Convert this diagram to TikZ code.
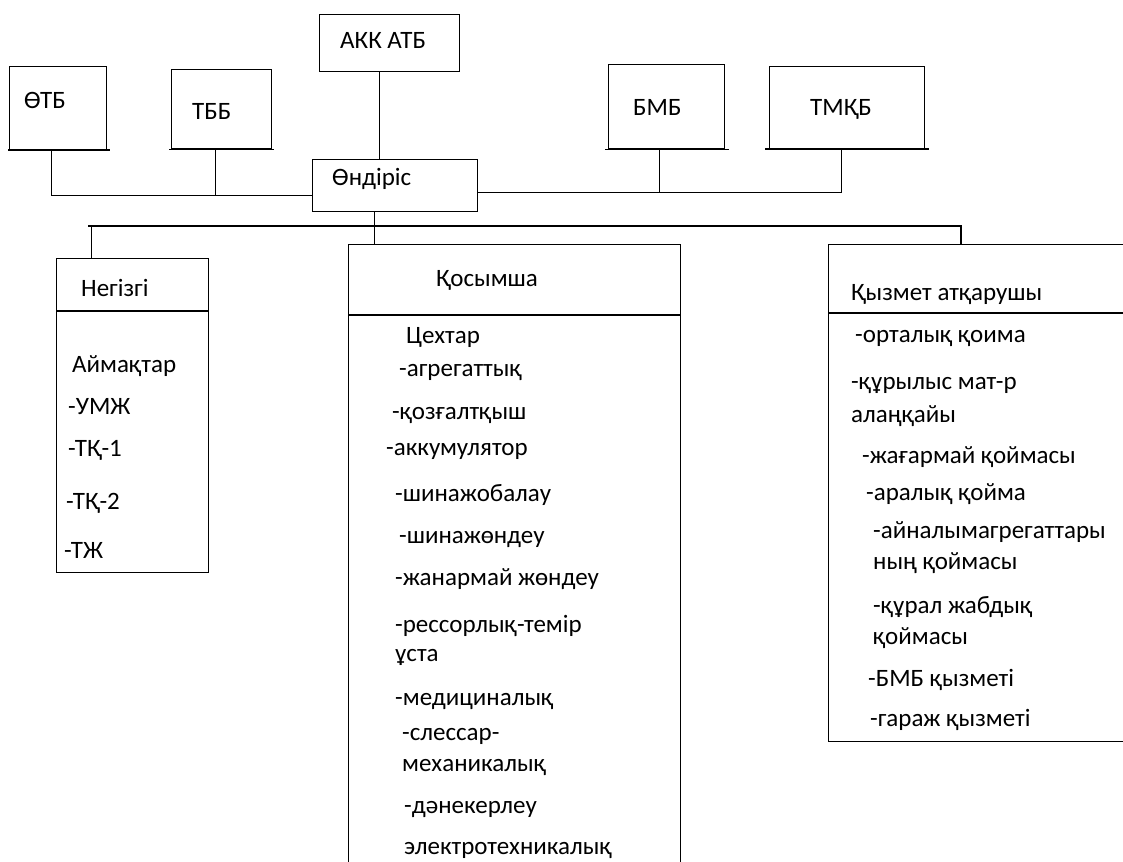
\documentclass[tikz,border=0pt]{standalone}
\usepackage{fontspec}
\setmainfont{Carlito}
\tikzset{
  box/.style={draw, line width=1.2pt, inner sep=0pt, anchor=north west},
  conn/.style={line width=1.2pt},
  txt/.style={anchor=west, inner sep=0pt, font=\fontsize{25}{30}\selectfont}
}

\begin{document}
\begin{tikzpicture}[x=1pt,y=-1pt]
		\useasboundingbox (0,0) rectangle (1123,861);
		\node[box, minimum width=97pt, minimum height=83pt] (otb) at (9,66) {};
		\node[box, minimum width=100pt, minimum height=79pt] (tbb) at (171,69) {};
		\node[box, minimum width=140pt, minimum height=57pt] (akk) at (319,14) {};
		\node[box, minimum width=116pt, minimum height=84pt] (bmb) at (608,64) {};
		\node[box, minimum width=155pt, minimum height=82pt] (tmkb) at (769,66) {};
		\node[box, minimum width=165pt, minimum height=52pt] (ondiris) at (312,159) {};
		\draw[line width=2.6pt] ([xshift=-1pt]otb.south west) -- ([xshift=3pt]otb.south east);
		\draw[conn] ([xshift=-2pt]tbb.south west) -- ([xshift=2pt]tbb.south east);
		\draw[conn] ([xshift=-3pt]bmb.south west) -- ([xshift=4pt]bmb.south east);
		\draw[line width=2.6pt] ([xshift=-4pt]tmkb.south west) -- ([xshift=4pt]tmkb.south east);
		\node[txt] (otb-t) at (24,100) {ӨТБ};
		\node[txt] (tbb-t) at (192,111) {ТББ};
		\node[txt] (akk-t) at (340,40) {АКК АТБ};
		\node[txt] (bmb-t) at (633,107) {БМБ};
		\node[txt] (tmkb-t) at (810,109) {ТМҚБ};
		\node[txt] (ondiris-t) at (332,179) {Өндіріс};

		\node[box, minimum width=152pt, minimum height=314pt] (negizgi) at (56,258) {};
		\node[box, minimum width=332pt, minimum height=626pt] (qosymsha) at (348,244) {};
		\node[box, minimum width=302pt, minimum height=497pt] (qyzmet) at (828,244) {};
		\draw[line width=2.6pt] ([yshift=-53pt]negizgi.north west) -- ([yshift=-53pt]negizgi.north east);
		\draw[conn] ([yshift=-71pt]qosymsha.north west) -- ([yshift=-71pt]qosymsha.north east);
		\draw[conn] ([yshift=-69pt]qyzmet.north west) -- ([yshift=-69pt]qyzmet.north east);

		\coordinate (lj) at ([yshift=-10pt]ondiris.west);
		\coordinate (rj) at ([yshift=-7pt]ondiris.east);
		\coordinate (otbx) at ([xshift=-7pt]otb.south);
		\coordinate (tbbx) at ([xshift=-6pt]tbb.south);
		\coordinate (bmbx) at ([xshift=-7pt]bmb.south);
		\coordinate (tmkbx) at ([xshift=-6pt]tmkb.south);
		\coordinate (akkx) at ([xshift=-10pt]akk.south);
		\coordinate (ondx) at ([xshift=-21pt]ondiris.south);
		\coordinate (negx) at ([xshift=-41pt]negizgi.north);
		\coordinate (busl) at (88,226);
		\coordinate (busr) at (961,226);
		\draw[conn] (otbx) |- (lj);
		\draw[conn] (tbbx) -- (tbbx |- lj);
		\draw[conn] (rj) -| (tmkbx);
		\draw[conn] (bmbx) -- (bmbx |- rj);
		\draw[conn] (akkx) -- (akkx |- ondiris.north);
		\draw[conn] (ondx) -- (ondx |- qosymsha.north);
		\draw[conn] (busl) -- (busr) -- (busr |- qyzmet.north);
		\draw[conn] (negx |- busl) -- (negx);

		\node[txt] (neg-t) at (81,288) {Негізгі};
		\node[txt] (neg1) at (72,366) {Аймақтар};
		\node[txt] (neg2) at (68,407) {-УМЖ};
		\node[txt] (neg3) at (68,450) {-ТҚ-1};
		\node[txt] (neg4) at (66,503) {-ТҚ-2};
		\node[txt] (neg5) at (64,550) {-ТЖ};

		\node[txt] (qos-t) at (436,280) {Қосымша};
		\node[txt] (qos1) at (406,337) {Цехтар};
		\node[txt] (qos2) at (399,372) {-агрегаттық};
		\node[txt] (qos3) at (392,415) {-қозғалтқыш};
		\node[txt] (qos4) at (386,451) {-аккумулятор};
		\node[txt] (qos5) at (395,495) {-шинажобалау};
		\node[txt] (qos6) at (399,539) {-шинажөндеу};
		\node[txt] (qos7) at (395,579) {-жанармай жөндеу};
		\node[txt] (qos8) at (395,626) {-рессорлық-темір};
		\node[txt] (qos9) at (395,657) {ұста};
		\node[txt] (qos10) at (395,701) {-медициналық};
		\node[txt] (qos11) at (402,736) {-слессар-};
		\node[txt] (qos12) at (402,767) {механикалық};
		\node[txt] (qos13) at (404,809) {-дәнекерлеу};
		\node[txt] (qos14) at (404,850) {электротехникалық};

		\node[txt] (qyz-t) at (851,295) {Қызмет атқарушы};
		\node[txt] (qyz1) at (855,338) {-орталық қоима};
		\node[txt] (qyz2) at (851,385) {-құрылыс мат-р};
		\node[txt] (qyz3) at (851,416) {алаңқайы};
		\node[txt] (qyz4) at (862,457) {-жағармай қоймасы};
		\node[txt] (qyz5) at (866,494) {-аралық қойма};
		\node[txt] (qyz6) at (873,532) {-айналымагрегаттары};
		\node[txt] (qyz7) at (873,563) {ның қоймасы};
		\node[txt] (qyz8) at (873,607) {-құрал жабдық};
		\node[txt] (qyz9) at (873,638) {қоймасы};
		\node[txt] (qyz10) at (868,680) {-БМБ қызметі};
		\node[txt] (qyz11) at (870,720) {-гараж қызметі};
	\end{tikzpicture}
\end{document}
